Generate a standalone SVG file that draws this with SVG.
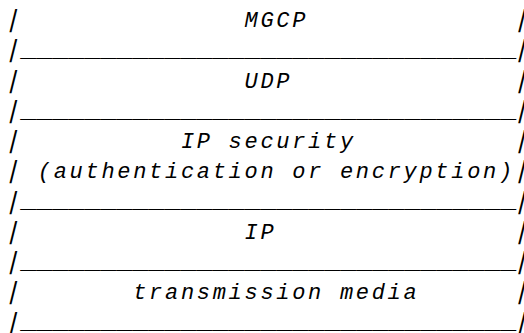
<svg xmlns="http://www.w3.org/2000/svg" width="524" height="333" viewBox="0 0 524 333">
<style>
text{font-family:"Liberation Mono","DejaVu Sans Mono",monospace;font-style:italic;fill:#000;white-space:pre}
.t{font-size:22px;letter-spacing:2.7px}
.p{font-size:25px;letter-spacing:0.9px}
.u{font-size:21px}
</style>
<defs>
<text id="bars" class="p" xml:space="preserve">|                               |</text>
</defs>
<rect width="524" height="333" fill="#fff"/>
<g id="frame">
<use href="#bars" transform="translate(4.3,27) skewX(-14)"/>
<use href="#bars" transform="translate(4.3,57.25) skewX(-14)"/>
<use href="#bars" transform="translate(4.3,87.5) skewX(-14)"/>
<use href="#bars" transform="translate(4.3,117.75) skewX(-14)"/>
<use href="#bars" transform="translate(4.3,148) skewX(-14)"/>
<use href="#bars" transform="translate(4.3,178.25) skewX(-14)"/>
<use href="#bars" transform="translate(4.3,208.5) skewX(-14)"/>
<use href="#bars" transform="translate(4.3,238.75) skewX(-14)"/>
<use href="#bars" transform="translate(4.3,269) skewX(-14)"/>
<use href="#bars" transform="translate(4.3,299.25) skewX(-14)"/>
<use href="#bars" transform="translate(4.3,329.5) skewX(-14)"/>
</g>
<g id="connectors">
<text class="u" x="21.9" y="57" textLength="496" lengthAdjust="spacingAndGlyphs">_______________________________</text>
<text class="u" x="21.9" y="117.5" textLength="496" lengthAdjust="spacingAndGlyphs">_______________________________</text>
<text class="u" x="21.9" y="208.25" textLength="496" lengthAdjust="spacingAndGlyphs">_______________________________</text>
<text class="u" x="21.9" y="268.75" textLength="496" lengthAdjust="spacingAndGlyphs">_______________________________</text>
<text class="u" x="21.9" y="329" textLength="496" lengthAdjust="spacingAndGlyphs">_______________________________</text>
</g>
<g id="mgcp"><text class="t" x="244.5" y="27">MGCP</text></g>
<g id="udp"><text class="t" x="244.5" y="87.5">UDP</text></g>
<g id="ipsec">
<text class="t" x="180.9" y="148" xml:space="preserve">IP security</text>
<text class="t" x="37.8" y="178.25" xml:space="preserve">(authentication or encryption)</text>
</g>
<g id="ip"><text class="t" x="244.5" y="238.75">IP</text></g>
<g id="media"><text class="t" x="133.2" y="299.25" xml:space="preserve">transmission media</text></g>
</svg>
